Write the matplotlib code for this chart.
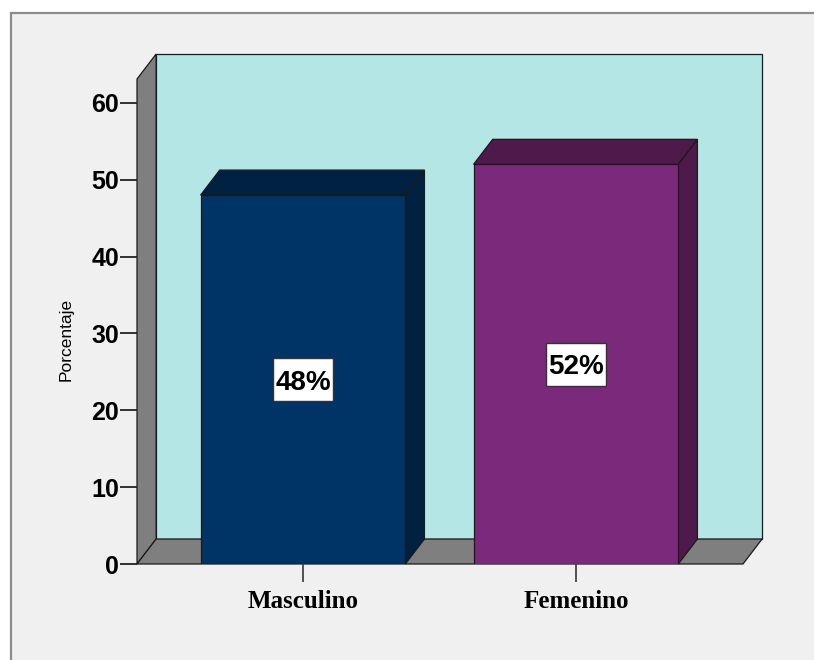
import numpy as np
import matplotlib.pyplot as plt
from matplotlib.patches import Polygon, Rectangle

categories = ["Masculino", "Femenino"]
values = [48, 52]
yticks = [0, 10, 20, 30, 40, 50, 60]

front_colors = ["#003366", "#7b297b"]
dark_colors = ["#002142", "#4d1a4b"]
wall_color = "#b4e6e6"
side_color = "#7f7f7f"

# front plane limits (data units) and the 3d depth offset
x0, x1 = -0.608, 1.612
ytop = 63.1
dx, dy = 0.07, 3.25
bar_w = 0.75
box_w, box_h = 0.22, 5.6

fig = plt.figure(figsize=(8.14, 6.6), dpi=100)
fig.patch.set_facecolor("white")
fig.patches.append(Rectangle((11 / 814, -0.01), 1.0, (660 - 13) / 660 + 0.01,
                             transform=fig.transFigure, facecolor="#f0f0f0",
                             edgecolor="#8c8c8c", linewidth=1.6, zorder=-1))

ax = fig.add_axes([137 / 814, 96 / 660, 606 / 814, 485 / 660])
ax.set_facecolor("none")
ax.set_xlim(x0, x1)
ax.set_ylim(0, ytop)
for s in ax.spines.values():
    s.set_visible(False)

ec = "#1a1a1a"
lw = 0.9
# back wall
ax.add_patch(Polygon([[x0 + dx, dy], [x1 + dx, dy], [x1 + dx, ytop + dy], [x0 + dx, ytop + dy]],
                     closed=True, facecolor=wall_color, edgecolor=ec, lw=lw, clip_on=False, zorder=1))
# left wall
ax.add_patch(Polygon([[x0, 0], [x0 + dx, dy], [x0 + dx, ytop + dy], [x0, ytop]],
                     closed=True, facecolor=side_color, edgecolor=ec, lw=lw, clip_on=False, zorder=1))
# floor
ax.add_patch(Polygon([[x0, 0], [x1, 0], [x1 + dx, dy], [x0 + dx, dy]],
                     closed=True, facecolor=side_color, edgecolor=ec, lw=lw, clip_on=False, zorder=1))

xpos = np.arange(len(categories))
bars = ax.bar(xpos, values, width=bar_w, color=front_colors, edgecolor=ec, linewidth=lw, zorder=3)
for i, b in enumerate(bars):
    l = b.get_x()
    r = l + b.get_width()
    h = b.get_height()
    ax.add_patch(Polygon([[l, h], [r, h], [r + dx, h + dy], [l + dx, h + dy]], closed=True,
                         facecolor=dark_colors[i], edgecolor=ec, lw=lw, clip_on=False, zorder=2))
    ax.add_patch(Polygon([[r, 0], [r + dx, dy], [r + dx, h + dy], [r, h]], closed=True,
                         facecolor=dark_colors[i], edgecolor=ec, lw=lw, clip_on=False, zorder=2))
    # white label box
    ax.add_patch(Rectangle((xpos[i] - box_w / 2, h / 2 - box_h / 2), box_w, box_h,
                           facecolor="white", edgecolor="#333333", lw=1, zorder=4))
    ax.text(xpos[i], h / 2, "{}%".format(values[i]), ha="center", va="center_baseline",
            fontsize=20, fontweight="bold", family="Liberation Sans", zorder=5)

ax.set_yticks(yticks)
ax.set_yticklabels([str(t) for t in yticks], fontsize=18, fontweight="bold", family="Liberation Sans")
ax.set_xticks(xpos)
ax.set_xticklabels(categories, fontsize=18, fontweight="bold", family="Liberation Serif")
ax.tick_params(axis="y", length=12, width=1.3, color="#222222", pad=1)
ax.tick_params(axis="x", length=13, width=1.3, color="#444444", pad=6)

ax.set_ylabel("Porcentaje", fontsize=12.5, family="Liberation Sans")
ax.yaxis.set_label_coords(-0.104, 0.462)

fig.savefig("out.png", dpi=100)
